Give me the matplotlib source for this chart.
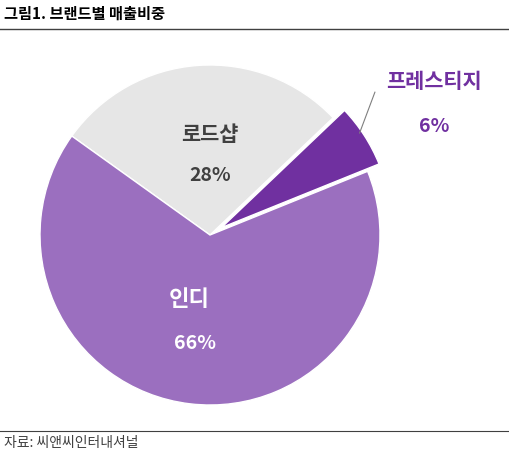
import matplotlib.pyplot as plt

plt.rcParams['font.family'] = ['Noto Sans CJK KR', 'DejaVu Sans']

labels = ['프레스티지', '로드샵', '인디']
shares = [6, 28, 66]
colors = ['#7030A0', '#E6E6E6', '#9B6FBF']

fig = plt.figure(figsize=(5.1, 4.58), dpi=100)
ax = fig.add_axes([40 / 510, 53 / 458, 340 / 510, 340 / 458])
ax.pie(shares, colors=colors, startangle=22, counterclock=True,
       explode=[0.08, 0, 0], wedgeprops=dict(edgecolor='white', linewidth=1))
ax.set_xlim(-1, 1)
ax.set_ylim(-1, 1)
ax.set_aspect('equal')
ax.axis('off')
for p in ax.patches:
    p.set_clip_on(False)

ax.text(0, 0.59, labels[1], ha='center', va='center', fontsize=15, fontweight='bold', color='#404040')
ax.text(0, 0.35, f'{shares[1]}%', ha='center', va='center', fontsize=14, fontweight='bold', color='#404040')
ax.text(-0.12, -0.38, labels[2], ha='center', va='center', fontsize=16, fontweight='bold', color='white')
ax.text(-0.09, -0.64, f'{shares[2]}%', ha='center', va='center', fontsize=14, fontweight='bold', color='white')
ax.text(1.32, 0.9, labels[0], ha='center', va='center', fontsize=15, fontweight='bold', color='#7030A0', clip_on=False)
ax.text(1.32, 0.64, f'{shares[0]}%', ha='center', va='center', fontsize=14, fontweight='bold', color='#7030A0', clip_on=False)
ax.plot([0.97, 0.88], [0.84, 0.6], color='#7F7F7F', lw=0.8, clip_on=False)

fig.text(4 / 510, 1 - 14 / 458, '그림1. 브랜드별 매출비중', fontsize=11, fontweight='bold', va='center', ha='left')
fig.add_artist(plt.Line2D([0, 1], [1 - 29 / 458] * 2, color='#404040', lw=1))
fig.add_artist(plt.Line2D([0, 1], [1 - 431 / 458] * 2, color='#404040', lw=0.8))
fig.text(4 / 510, 1 - 443 / 458, '자료: 씨앤씨인터내셔널', fontsize=10, va='center', ha='left', color='#404040')

fig.savefig('out.png', dpi=100)
